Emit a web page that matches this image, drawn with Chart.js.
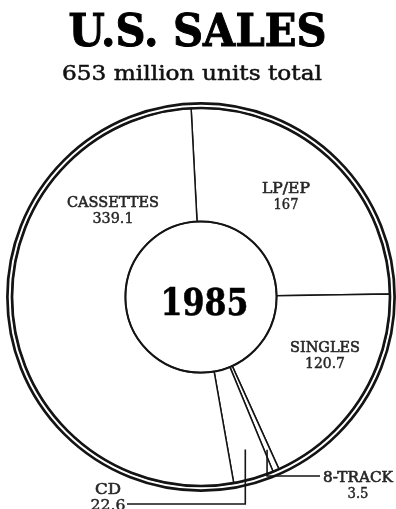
<!DOCTYPE html>
<html>
<head>
<meta charset="utf-8">
<script src="https://cdn.jsdelivr.net/npm/chart.js@4.4.1/dist/chart.umd.min.js"></script>
<style>
  html, body { margin: 0; padding: 0; background: #fff; overflow: hidden; }
  #wrap { position: relative; width: 396px; height: 509px; }
</style>
</head>
<body>
<div id="wrap"><canvas id="salesChart" width="396" height="509"></canvas></div>
<script>
// 1985 U.S. sales, million units, clockwise from the top
const categories = ['LP/EP', 'SINGLES', '8-TRACK', 'CD', 'CASSETTES'];
const units = [167, 120.7, 3.5, 22.6, 339.1];
const unitLabels = ['167', '120.7', '3.5', '22.6', '339.1'];
const totalUnits = 653;
const year = '1985';

const ink = '#141414';
const serif = "'DejaVu Serif', 'Liberation Serif', serif";

// where each slice label sits (name baseline), and how wide the text is drawn
const labelSpots = [
  { x: 286, y: 193, w1: 48, w2: 25 },
  { x: 325, y: 352, w1: 70, w2: 40 },
  { x: 358, y: 482, w1: 70, w2: 21 },
  { x: 108, y: 494, w1: 26, w2: 35 },
  { x: 113, y: 207, w1: 92, w2: 41 }
];
// leader lines: index of slice, depth into slice, end of the line
const leaders = [
  { i: 2, depth: 0.88, yTurn: 476, xEnd: 320 },
  { i: 3, depth: 0.84, yTurn: 504, xEnd: 127 }
];

function fitText(ctx, text, cx, base, font, width, bold) {
  ctx.font = font;
  const w = ctx.measureText(text).width;
  ctx.save();
  ctx.translate(cx, base);
  ctx.scale(width / w, 1);
  ctx.textAlign = 'center';
  ctx.textBaseline = 'alphabetic';
  ctx.fillText(text, 0, 0);
  if (bold) {
    ctx.lineWidth = bold;
    ctx.strokeStyle = ctx.fillStyle;
    ctx.strokeText(text, 0, 0);
  }
  ctx.restore();
}

const decorPlugin = {
  id: 'decor',
  afterDatasetsDraw(chart) {
    const ctx = chart.ctx;
    const arcs = chart.getDatasetMeta(0).data;
    const { x, y, outerRadius, innerRadius } = arcs[0].getProps(['x', 'y', 'outerRadius', 'innerRadius'], true);
    ctx.save();
    ctx.strokeStyle = ink;
    ctx.lineWidth = 2.7;
    [outerRadius, outerRadius + 4.6].forEach(r => {
      ctx.beginPath();
      ctx.arc(x, y, r, 0, Math.PI * 2);
      ctx.stroke();
    });
    ctx.lineWidth = 2;
    ctx.beginPath();
    ctx.arc(x, y, innerRadius, 0, Math.PI * 2);
    ctx.stroke();

    // leader lines for the thin slices
    ctx.lineWidth = 1.6;
    leaders.forEach(l => {
      const a = arcs[l.i].getProps(['startAngle', 'endAngle'], true);
      const mid = (a.startAngle + a.endAngle) / 2;
      const px = x + Math.cos(mid) * outerRadius * l.depth;
      const py = y + Math.sin(mid) * outerRadius * l.depth;
      ctx.beginPath();
      ctx.moveTo(px, py);
      ctx.lineTo(px, l.yTurn);
      ctx.lineTo(l.xEnd, l.yTurn);
      ctx.stroke();
    });

    // text
    ctx.fillStyle = '#000';
    fitText(ctx, 'U.S. SALES', 197.5, 45.5, 'bold 45px ' + serif, 258, 1);
    ctx.fillStyle = '#111';
    fitText(ctx, totalUnits + ' million units total', 192, 80, '20px ' + serif, 260, 0.5);
    ctx.fillStyle = '#000';
    fitText(ctx, year, 204.5, 315, 'bold 37px ' + serif, 88, 0.6);

    ctx.fillStyle = '#262626';
    categories.forEach((c, i) => {
      const s = labelSpots[i];
      fitText(ctx, c, s.x, s.y, '15px ' + serif, s.w1, 0.6);
      fitText(ctx, unitLabels[i], s.x, s.y + 15.5, '15px ' + serif, s.w2, 0.45);
    });
    ctx.restore();
  }
};

new Chart(document.getElementById('salesChart'), {
  type: 'doughnut',
  data: {
    labels: categories,
    datasets: [{
      data: units,
      backgroundColor: '#ffffff',
      borderColor: ink,
      borderWidth: 1.5
    }]
  },
  options: {
    responsive: false,
    animation: false,
    events: [],
    rotation: -3,
    cutout: '40%',
    layout: { padding: { left: 11.25, right: 5.25, top: 107.25, bottom: 22.25 } },
    plugins: {
      legend: { display: false },
      tooltip: { enabled: false }
    }
  },
  plugins: [decorPlugin]
});
</script>
</body>
</html>
